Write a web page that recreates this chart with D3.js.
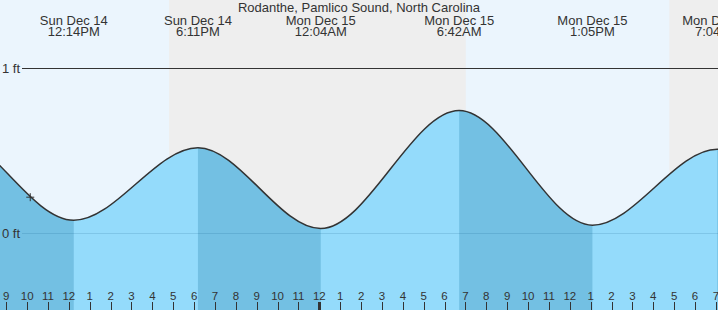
<!DOCTYPE html>
<html>
<head>
<meta charset="utf-8">
<script src="https://cdn.jsdelivr.net/npm/d3@7"></script>
<style>
  body { margin: 0; background: #fff; }
  svg { display: block; font-family: "Liberation Sans", Arial, sans-serif; }
</style>
</head>
<body>
<svg id="chart"></svg>
<script>
const title = "Rodanthe, Pamlico Sound, North Carolina";

const tideTimes = ["2025-12-13 23:50", "2025-12-14 05:56", "2025-12-14 12:14", "2025-12-14 18:11",
  "2025-12-15 00:04", "2025-12-15 06:42", "2025-12-15 13:05", "2025-12-15 19:04", "2025-12-16 01:20"];
const tideHeights = [0.05, 0.64, 0.08, 0.52, 0.03, 0.745, 0.05, 0.51, 0.06];
const tideTypes = ["L", "H", "L", "H", "L", "H", "L", "H", "L"];

// night spans (sunset -> sunrise)
const nightStarts = ["2025-12-14 16:48", "2025-12-15 16:46"];
const nightEnds = ["2025-12-15 07:01", "2025-12-16 07:02"];

const yTicks = [0, 1];
const nowTime = "2025-12-14 10:09";
const nowHeight = 0.22;

const viewStart = "2025-12-14 08:42";
const viewEnd = "2025-12-15 19:06";

const width = 718, height = 310;
const parse = d3.timeParse("%Y-%m-%d %H:%M");

const svg = d3.select("#chart").attr("width", width).attr("height", height);

const x = d3.scaleTime().domain([parse(viewStart), parse(viewEnd)]).range([0, width]);
const y = d3.scaleLinear().domain([0, 1]).range([233.5, 68.5]);

const tides = tideTimes.map((t, i) => ({ time: parse(t), h: tideHeights[i], type: tideTypes[i] }));

// background: day then night bands
svg.append("rect").attr("width", width).attr("height", height).attr("fill", "#ebf5fd");
svg.selectAll("rect.night")
  .data(nightStarts.map((s, i) => [parse(s), parse(nightEnds[i])]))
  .join("rect")
  .attr("class", "night")
  .attr("x", (d) => x(d[0]))
  .attr("width", (d) => x(d[1]) - x(d[0]))
  .attr("y", 0)
  .attr("height", height)
  .attr("fill", "#eeeeee");

// water area
const area = d3.area()
  .x((d) => x(d.time))
  .y0(height)
  .y1((d) => y(d.h))
  .curve(d3.curveMonotoneX);

const line = d3.line()
  .x((d) => x(d.time))
  .y((d) => y(d.h))
  .curve(d3.curveMonotoneX);

svg.append("clipPath").attr("id", "water")
  .append("path").attr("d", area(tides));

const water = svg.append("g").attr("clip-path", "url(#water)");
water.append("rect").attr("width", width).attr("height", height).attr("fill", "#94dbfb");

// falling tide (high -> next low) is darker
const falling = [];
tides.forEach((d, i) => {
  if (d.type === "H" && i + 1 < tides.length) falling.push([d.time, tides[i + 1].time]);
});
water.selectAll("rect.fall")
  .data(falling)
  .join("rect")
  .attr("class", "fall")
  .attr("x", (d) => x(d[0]))
  .attr("width", (d) => x(d[1]) - x(d[0]))
  .attr("y", 0)
  .attr("height", height)
  .attr("fill", "#73c0e3");

// reference lines
svg.selectAll("line.ref")
  .data(yTicks)
  .join("line")
  .attr("class", "ref")
  .attr("x1", 22).attr("x2", width)
  .attr("y1", (d) => Math.floor(y(d)) + 0.5)
  .attr("y2", (d) => Math.floor(y(d)) + 0.5)
  .attr("stroke", (d) => (d === 1 ? "#333" : "rgba(0,70,120,0.14)"))
  .attr("stroke-width", 1);

svg.selectAll("text.ylab")
  .data(yTicks)
  .join("text")
  .attr("class", "ylab")
  .attr("x", 2)
  .attr("y", (d) => y(d) + 4.5)
  .attr("font-size", 13)
  .attr("fill", "#333")
  .text((d) => `${d} ft`);

// tide curve
svg.append("path")
  .attr("d", line(tides))
  .attr("fill", "none")
  .attr("stroke", "#333")
  .attr("stroke-width", 1.5);

// current time marker
const nx = x(parse(nowTime)), ny = y(nowHeight);
svg.append("path")
  .attr("d", `M${nx - 4},${ny}H${nx + 4}M${nx},${ny - 4}V${ny + 4}`)
  .attr("stroke", "#333")
  .attr("stroke-width", 1);

// title and extreme labels
svg.append("text")
  .attr("x", width / 2).attr("y", 11.5)
  .attr("text-anchor", "middle")
  .attr("font-size", 13)
  .attr("fill", "#333")
  .text(title);

const fmtDay = d3.timeFormat("%a %b %-d");
const fmtTime = d3.timeFormat("%-I:%M%p");
const shown = tides.filter((d) => d.time >= x.domain()[0] && d.time <= x.domain()[1]);
const labels = svg.selectAll("g.tlab")
  .data(shown)
  .join("g")
  .attr("class", "tlab")
  .attr("transform", (d) => `translate(${x(d.time)},0)`);
labels.append("text").attr("y", 24.5).text((d) => fmtDay(d.time));
labels.append("text").attr("y", 36.2).text((d) => fmtTime(d.time));
labels.selectAll("text")
  .attr("text-anchor", "middle")
  .attr("font-size", 13)
  .attr("fill", "#333");

// hour axis along the bottom
const hours = x.ticks(d3.timeHour.every(1));
const axis = svg.append("g");
axis.selectAll("line")
  .data(hours)
  .join("line")
  .attr("x1", (d) => Math.round(x(d)) + 0.5)
  .attr("x2", (d) => Math.round(x(d)) + 0.5)
  .attr("y1", 302).attr("y2", height)
  .attr("stroke", "#333")
  .attr("stroke-width", (d) => (d.getHours() === 0 ? 3 : 1));
axis.selectAll("text")
  .data(hours)
  .join("text")
  .attr("x", (d) => x(d))
  .attr("y", 299.5)
  .attr("text-anchor", "middle")
  .attr("font-size", 11.5)
  .attr("fill", "#333")
  .text((d) => d.getHours() % 12 || 12);
</script>
</body>
</html>
